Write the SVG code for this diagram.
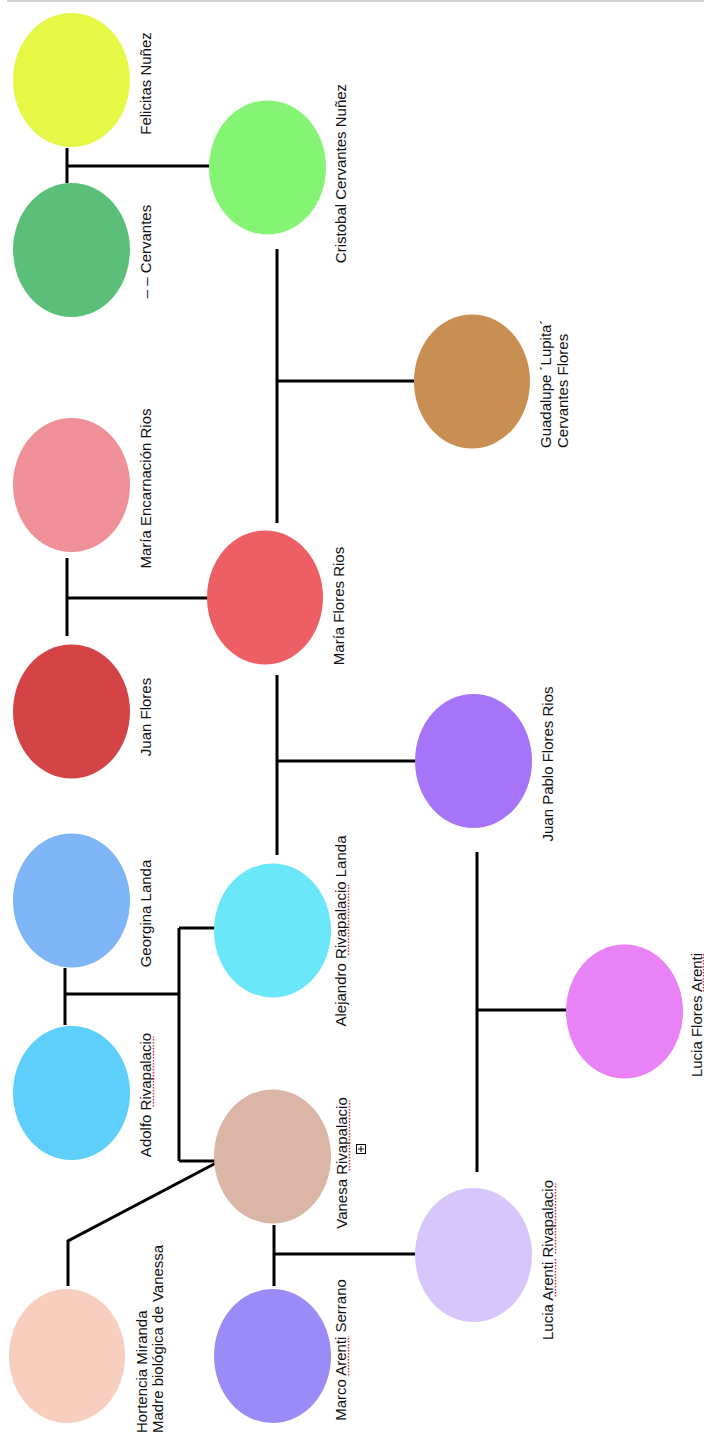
<svg xmlns="http://www.w3.org/2000/svg" width="704" height="1439" viewBox="0 0 704 1439">
<style>
text{font-family:"Liberation Sans",Arial,Helvetica,sans-serif;font-size:15px;fill:#111}
.c{text-anchor:middle}
.s{text-anchor:start}
.sp{fill:none;stroke:#e03030;stroke-width:1.5;stroke-dasharray:1.5 1.5}
#connectors path{fill:none;stroke:#000;stroke-width:3;stroke-linejoin:miter}
</style>
<rect x="7" y="0" width="697" height="2" fill="#d2d2d2"/>
<g id="connectors">
<path d="M67 148V183M67 166H209"/>
<path d="M277 249V523M277 381H415"/>
<path d="M67 558V636M67 598H209"/>
<path d="M277 675V855M277 761H416"/>
<path d="M65 968V1025M65 994H179M179 928V1161M179 928H216M179 1161H216"/>
<path d="M216 1163L68 1241V1286"/>
<path d="M274 1225V1286M274 1254H415"/>
<path d="M477 852V1172M477 1010H566"/>
</g>
<g id="felicitas"><ellipse cx="71.5" cy="80" rx="58.5" ry="67" fill="#E6F746"/><text class="c" transform="translate(151,83.5) rotate(-90)">Felicitas Nuñez</text></g>
<g id="cervantes"><ellipse cx="71.5" cy="250" rx="58.5" ry="67" fill="#5BBF7A"/><text class="c" transform="translate(151,251.5) rotate(-90)">– – Cervantes</text></g>
<g id="cristobal"><ellipse cx="267.5" cy="167.5" rx="58.5" ry="67" fill="#85F474"/><text class="c" transform="translate(346,173.5) rotate(-90)">Cristobal Cervantes Nuñez</text></g>
<g id="guadalupe"><ellipse cx="472" cy="381.5" rx="58" ry="67" fill="#C98E51"/><text class="s" transform="translate(551,448) rotate(-90)"><tspan x="0" y="0">Guadalupe ´Lupita´</tspan><tspan x="0" y="17">Cervantes Flores</tspan></text></g>
<g id="maria-encarnacion"><ellipse cx="71.5" cy="485" rx="58.5" ry="67" fill="#EF9098"/><text class="c" transform="translate(151,488.5) rotate(-90)">María Encarnación Rios</text></g>
<g id="juan-flores"><ellipse cx="71.5" cy="711.5" rx="58.5" ry="67" fill="#D44446"/><text class="c" transform="translate(151,717) rotate(-90)">Juan Flores</text></g>
<g id="maria-flores-rios"><ellipse cx="265" cy="597.5" rx="58" ry="67" fill="#EE5F65"/><text class="c" transform="translate(344,606) rotate(-90)">María Flores Rios</text></g>
<g id="juan-pablo"><ellipse cx="473.5" cy="761" rx="58.5" ry="67" fill="#A674F8"/><text class="c" transform="translate(553,764) rotate(-90)">Juan Pablo Flores Rios</text></g>
<g id="georgina"><ellipse cx="71.5" cy="900.5" rx="58.5" ry="67" fill="#7DB5F7"/><text class="c" transform="translate(151,913.5) rotate(-90)">Georgina Landa</text></g>
<g id="alejandro"><ellipse cx="272.5" cy="930.5" rx="58.5" ry="67" fill="#6BE7FA"/><text class="c" transform="translate(346,931) rotate(-90)">Alejandro Rivapalacio Landa</text><path class="sp" d="M348.5 955V885"/></g>
<g id="adolfo"><ellipse cx="71.5" cy="1093" rx="58.5" ry="67" fill="#5DCFFA"/><text class="c" transform="translate(151,1095) rotate(-90)">Adolfo Rivapalacio</text><path class="sp" d="M153.5 1106.5V1036.5"/></g>
<g id="vanesa"><ellipse cx="272.5" cy="1156.5" rx="58.5" ry="67" fill="#DBB5A6"/><text class="c" transform="translate(347,1163) rotate(-90)">Vanesa Rivapalacio</text><path class="sp" d="M349.5 1170.5V1100.5"/><rect x="356.5" y="1144.5" width="9" height="9" fill="#fff" stroke="#000" stroke-width="1"/><path d="M361 1146V1152M358 1149H364" stroke="#000" stroke-width="1"/></g>
<g id="hortencia"><ellipse cx="67" cy="1356" rx="58" ry="67" fill="#F8CFBE"/><text class="s" transform="translate(147,1433) rotate(-90)"><tspan x="0" y="0">Hortencia Miranda</tspan><tspan x="0" y="15.5">Madre biológica de Vanessa</tspan></text></g>
<g id="marco"><ellipse cx="272.5" cy="1356" rx="58.5" ry="67" fill="#9A8CF7"/><text class="c" transform="translate(346,1350) rotate(-90)">Marco Arenti Serrano</text><path class="sp" d="M348.5 1375.5V1336"/></g>
<g id="lucia-arenti"><ellipse cx="473.5" cy="1255" rx="58.5" ry="67" fill="#D6C6FB"/><text class="c" transform="translate(553,1260) rotate(-90)">Lucia Arenti Rivapalacio</text><path class="sp" d="M555.5 1296.5V1257.5M555.5 1253.5V1183.5"/></g>
<g id="lucia-flores"><ellipse cx="624.5" cy="1011.5" rx="58.5" ry="67" fill="#E882F6"/><text class="c" transform="translate(702,1015) rotate(-90)">Lucia Flores Arenti</text><path class="sp" d="M703.5 991.5V952.5"/></g>
</svg>
